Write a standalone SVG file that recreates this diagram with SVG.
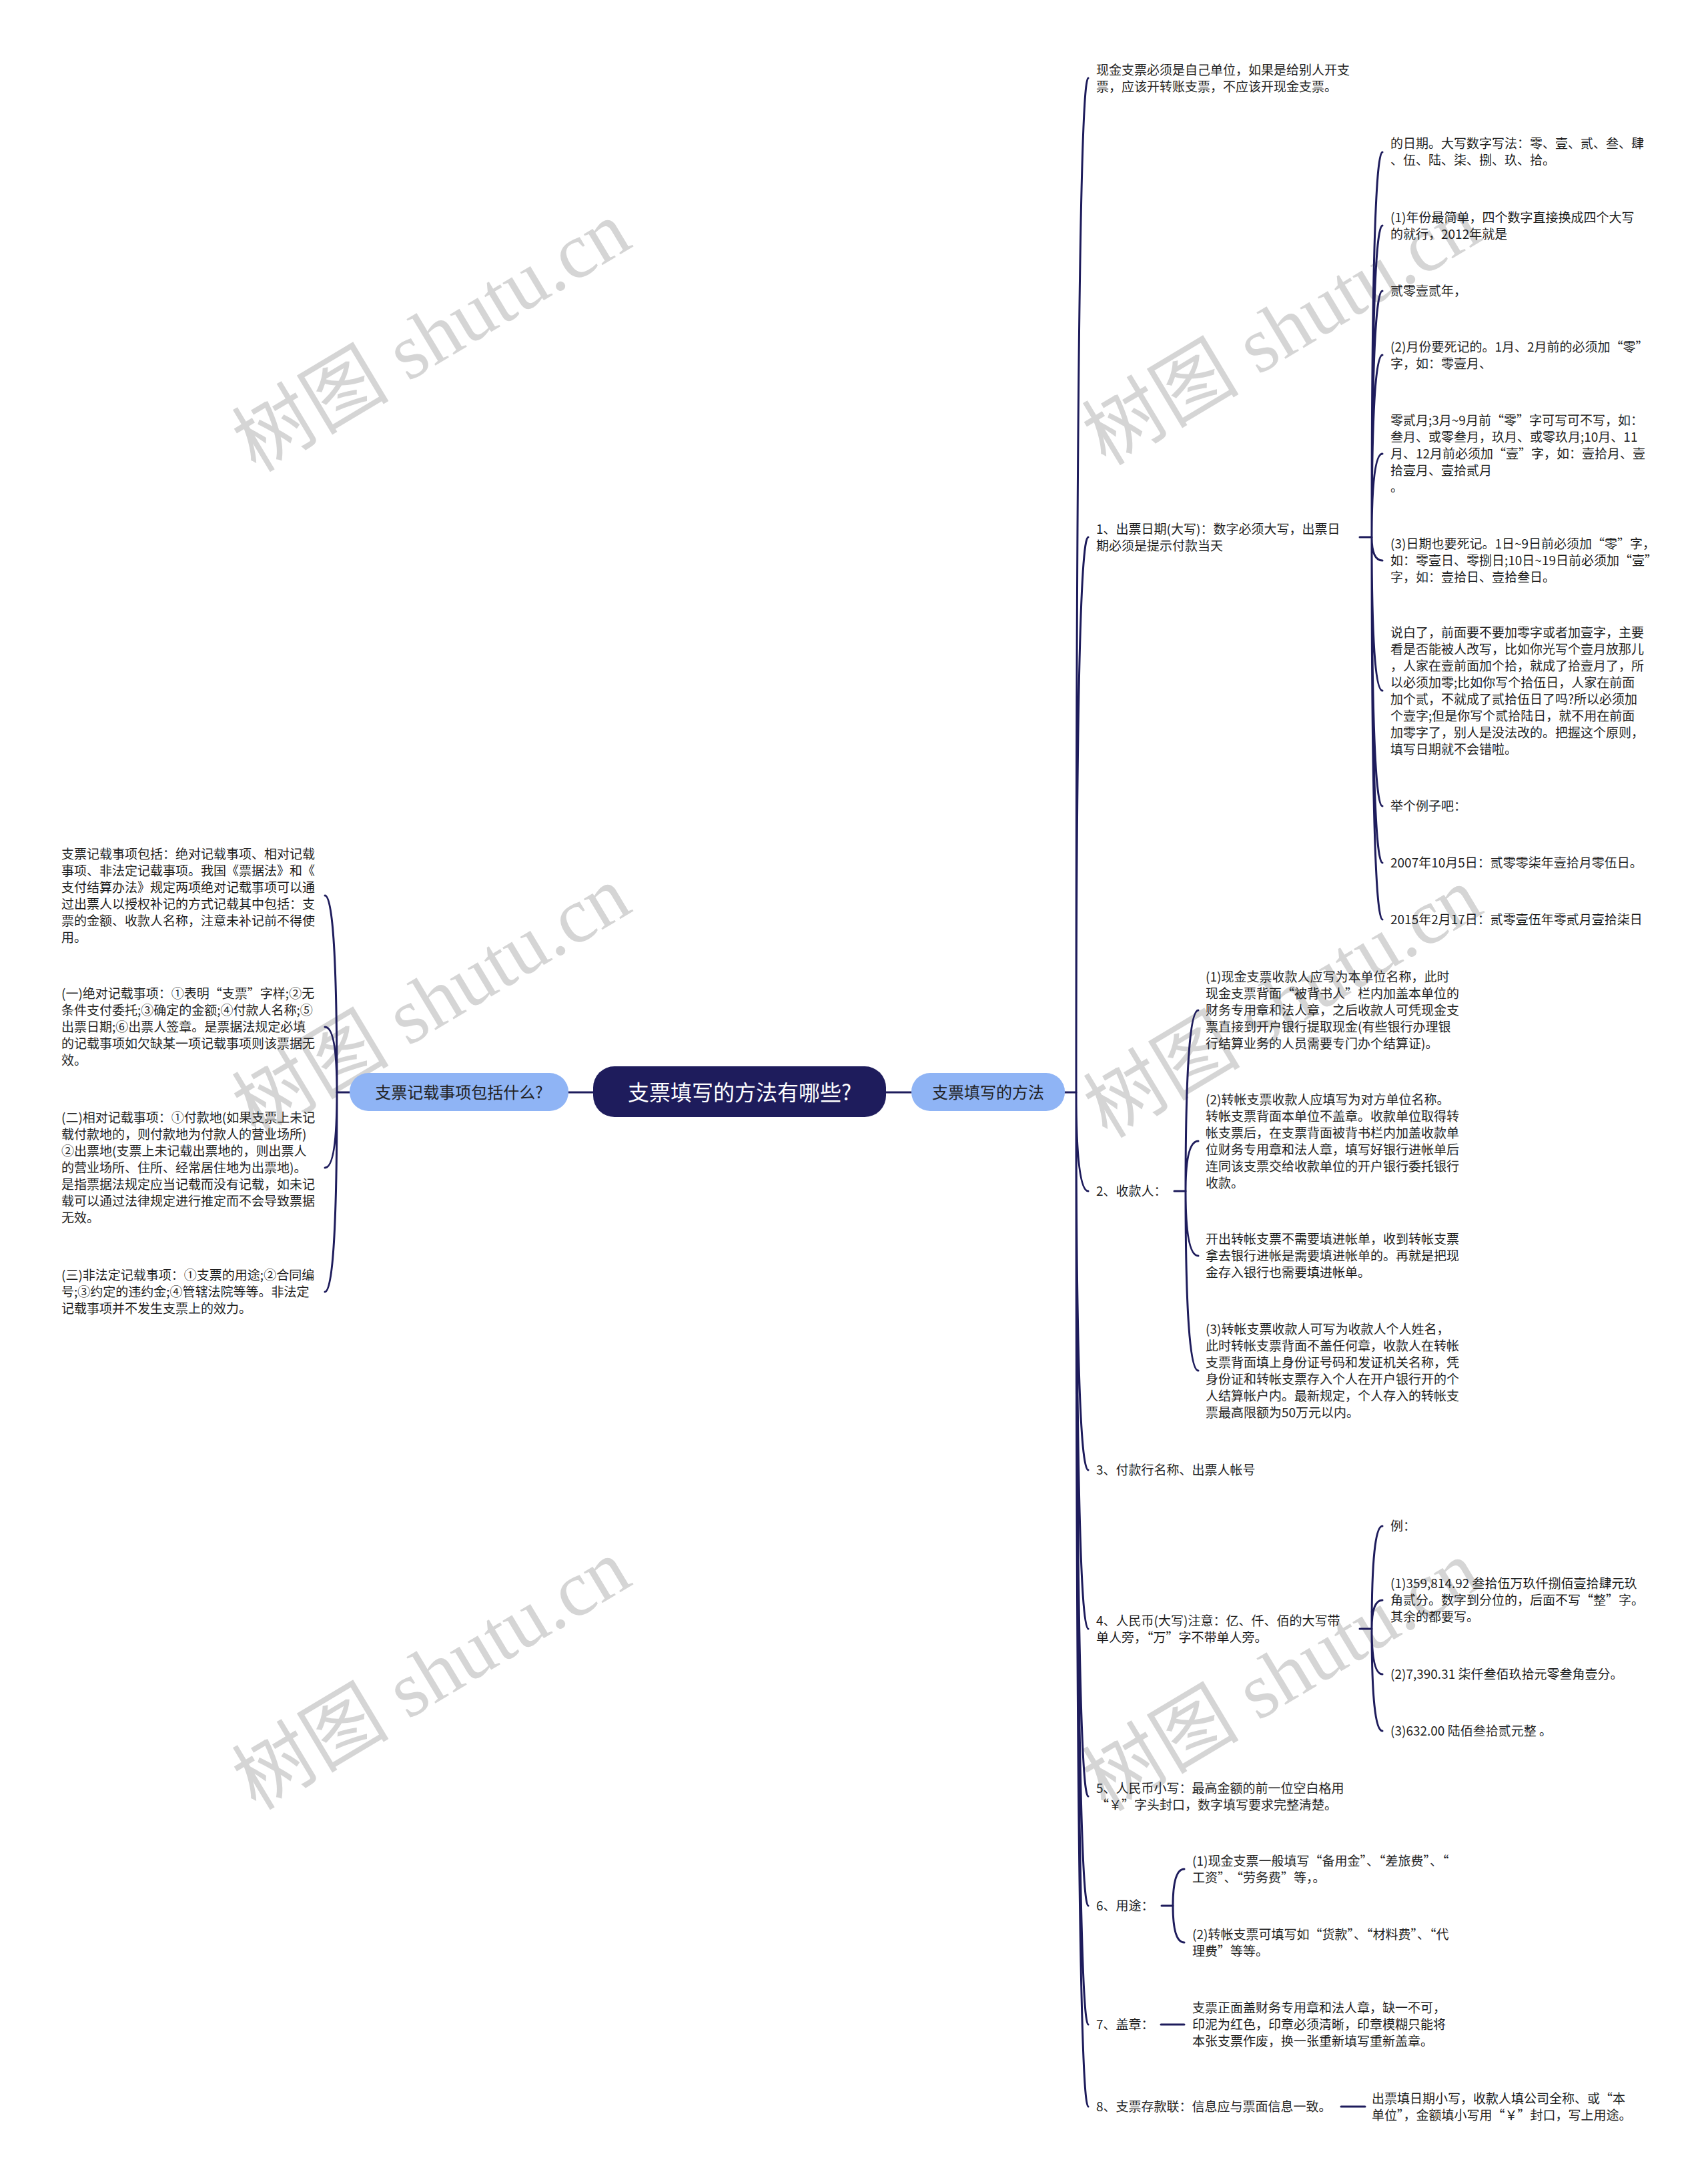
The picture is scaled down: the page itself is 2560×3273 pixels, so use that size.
<svg xmlns="http://www.w3.org/2000/svg" width="2560" height="3273" viewBox="0 0 2560 3273">
<style>
.bg{fill:#ffffff}
.wm{font-family:"Liberation Serif","Noto Sans CJK SC",serif;font-size:118px;fill:#d5d5d5}
.t{font-family:"Noto Sans CJK SC","Noto Sans",sans-serif;font-size:19px;fill:#1f1f1f}
.c{fill:none;stroke:#1e1c5c;stroke-width:3;stroke-linecap:round}
.root{fill:#1e1c5c}
.sub{fill:#8fb4f5}
.rt{font-family:"Noto Sans CJK SC","Noto Sans",sans-serif;font-size:32px;fill:#ffffff;text-anchor:middle}
.st{font-family:"Noto Sans CJK SC","Noto Sans",sans-serif;font-size:24px;fill:#222222;text-anchor:middle}
</style>
<rect class="bg" x="0" y="0" width="2560" height="3273"/>
<g id="watermarks">
<text class="wm" text-anchor="middle" dominant-baseline="central" transform="translate(647,505) rotate(-31)">树图 shutu.cn</text>
<text class="wm" text-anchor="middle" dominant-baseline="central" transform="translate(647,1501) rotate(-31)">树图 shutu.cn</text>
<text class="wm" text-anchor="middle" dominant-baseline="central" transform="translate(647,2510) rotate(-31)">树图 shutu.cn</text>
<text class="wm" text-anchor="middle" dominant-baseline="central" transform="translate(1921,495) rotate(-31)">树图 shutu.cn</text>
<text class="wm" text-anchor="middle" dominant-baseline="central" transform="translate(1923,1503) rotate(-31)">树图 shutu.cn</text>
<text class="wm" text-anchor="middle" dominant-baseline="central" transform="translate(1921,2512) rotate(-31)">树图 shutu.cn</text>
</g>
<g id="connectors">
<path class="c" d="M852 1637H889M1328 1637H1366"/>
<path class="c" d="M1596 1637H1613"/>
<path class="c" d="M1613 1637Q1613 117 1631 117M1613 1637Q1613 805 1631 805M1613 1637Q1613 1785 1631 1785M1613 1637Q1613 2203 1631 2203M1613 1637Q1613 2441 1631 2441M1613 1637Q1613 2692 1631 2692M1613 1637Q1613 2856 1631 2856M1613 1637Q1613 3034 1631 3034M1613 1637Q1613 3157 1631 3157"/>
<path class="c" d="M524 1637H505"/>
<path class="c" d="M505 1637Q505 1342 487 1342M505 1637Q505 1539 487 1539M505 1637Q505 1750 487 1750M505 1637Q505 1936 487 1936"/>
<path class="c" d="M2038 805H2056"/>
<path class="c" d="M2056 805Q2056 228 2072 228M2056 805Q2056 338 2072 338M2056 805Q2056 436 2072 436M2056 805Q2056 532 2072 532M2056 805Q2056 680 2072 680M2056 805Q2056 840 2072 840M2056 805Q2056 1035 2072 1035M2056 805Q2056 1208 2072 1208M2056 805Q2056 1293 2072 1293M2056 805Q2056 1378 2072 1378"/>
<path class="c" d="M1760 1785H1777"/>
<path class="c" d="M1777 1785Q1777 1514 1796 1514M1777 1785Q1777 1710 1796 1710M1777 1785Q1777 1882 1796 1882M1777 1785Q1777 2054 1796 2054"/>
<path class="c" d="M2038 2441H2056"/>
<path class="c" d="M2056 2441Q2056 2287 2072 2287M2056 2441Q2056 2398 2072 2398M2056 2441Q2056 2509 2072 2509M2056 2441Q2056 2594 2072 2594"/>
<path class="c" d="M1741 2856H1758"/>
<path class="c" d="M1758 2856Q1758 2801 1775 2801M1758 2856Q1758 2911 1775 2911"/>
<path class="c" d="M1740 3034H1775"/>
<path class="c" d="M2010 3157H2046"/>
</g>
<g id="root">
<rect class="root" x="889" y="1598" width="439" height="76" rx="32"/>
<text class="rt" x="1108.5" y="1649">支票填写的方法有哪些?</text>
</g>
<g id="branch-right">
<rect class="sub" x="1366" y="1608" width="230" height="57" rx="28"/>
<text class="st" x="1481" y="1646">支票填写的方法</text>
</g>
<g id="branch-left">
<rect class="sub" x="524" y="1608" width="328" height="57" rx="28"/>
<text class="st" x="688" y="1646">支票记载事项包括什么?</text>
</g>
<g id="r1"><text class="t"><tspan x="1643" y="112">现金支票必须是自己单位，如果是给别人开支</tspan><tspan x="1643" y="137">票，应该开转账支票，不应该开现金支票。</tspan></text></g>
<g id="r2"><text class="t"><tspan x="1643" y="800">1、出票日期(大写)：数字必须大写，出票日</tspan><tspan x="1643" y="825">期必须是提示付款当天</tspan></text></g>
<g id="r2a"><text class="t"><tspan x="2084" y="222">的日期。大写数字写法：零、壹、贰、叁、肆</tspan><tspan x="2084" y="247">、伍、陆、柒、捌、玖、拾。</tspan></text></g>
<g id="r2b"><text class="t"><tspan x="2084" y="333">(1)年份最简单，四个数字直接换成四个大写</tspan><tspan x="2084" y="358">的就行，2012年就是</tspan></text></g>
<g id="r2c"><text class="t"><tspan x="2084" y="443">贰零壹贰年，</tspan></text></g>
<g id="r2d"><text class="t"><tspan x="2084" y="527">(2)月份要死记的。1月、2月前的必须加“零”</tspan><tspan x="2084" y="552">字，如：零壹月、</tspan></text></g>
<g id="r2e"><text class="t"><tspan x="2084" y="637">零贰月;3月~9月前“零”字可写可不写，如：</tspan><tspan x="2084" y="662">叁月、或零叁月，玖月、或零玖月;10月、11</tspan><tspan x="2084" y="687">月、12月前必须加“壹”字，如：壹拾月、壹</tspan><tspan x="2084" y="712">拾壹月、壹拾贰月</tspan><tspan x="2084" y="737">。</tspan></text></g>
<g id="r2f"><text class="t"><tspan x="2084" y="822">(3)日期也要死记。1日~9日前必须加“零”字，</tspan><tspan x="2084" y="847">如：零壹日、零捌日;10日~19日前必须加“壹”</tspan><tspan x="2084" y="872">字，如：壹拾日、壹拾叁日。</tspan></text></g>
<g id="r2g"><text class="t"><tspan x="2084" y="955">说白了，前面要不要加零字或者加壹字，主要</tspan><tspan x="2084" y="980">看是否能被人改写，比如你光写个壹月放那儿</tspan><tspan x="2084" y="1005">，人家在壹前面加个拾，就成了拾壹月了，所</tspan><tspan x="2084" y="1030">以必须加零;比如你写个拾伍日，人家在前面</tspan><tspan x="2084" y="1055">加个贰，不就成了贰拾伍日了吗?所以必须加</tspan><tspan x="2084" y="1080">个壹字;但是你写个贰拾陆日，就不用在前面</tspan><tspan x="2084" y="1105">加零字了，别人是没法改的。把握这个原则，</tspan><tspan x="2084" y="1130">填写日期就不会错啦。</tspan></text></g>
<g id="r2h"><text class="t"><tspan x="2084" y="1215">举个例子吧：</tspan></text></g>
<g id="r2i"><text class="t"><tspan x="2084" y="1300">2007年10月5日：贰零零柒年壹拾月零伍日。</tspan></text></g>
<g id="r2j"><text class="t"><tspan x="2084" y="1385">2015年2月17日：贰零壹伍年零贰月壹拾柒日</tspan></text></g>
<g id="r3"><text class="t"><tspan x="1643" y="1792">2、收款人：</tspan></text></g>
<g id="r3a"><text class="t"><tspan x="1807" y="1471">(1)现金支票收款人应写为本单位名称，此时</tspan><tspan x="1807" y="1496">现金支票背面“被背书人”栏内加盖本单位的</tspan><tspan x="1807" y="1521">财务专用章和法人章，之后收款人可凭现金支</tspan><tspan x="1807" y="1546">票直接到开户银行提取现金(有些银行办理银</tspan><tspan x="1807" y="1571">行结算业务的人员需要专门办个结算证)。</tspan></text></g>
<g id="r3b"><text class="t"><tspan x="1807" y="1655">(2)转帐支票收款人应填写为对方单位名称。</tspan><tspan x="1807" y="1680">转帐支票背面本单位不盖章。收款单位取得转</tspan><tspan x="1807" y="1705">帐支票后，在支票背面被背书栏内加盖收款单</tspan><tspan x="1807" y="1730">位财务专用章和法人章，填写好银行进帐单后</tspan><tspan x="1807" y="1755">连同该支票交给收款单位的开户银行委托银行</tspan><tspan x="1807" y="1780">收款。</tspan></text></g>
<g id="r3c"><text class="t"><tspan x="1807" y="1864">开出转帐支票不需要填进帐单，收到转帐支票</tspan><tspan x="1807" y="1889">拿去银行进帐是需要填进帐单的。再就是把现</tspan><tspan x="1807" y="1914">金存入银行也需要填进帐单。</tspan></text></g>
<g id="r3d"><text class="t"><tspan x="1807" y="1999">(3)转帐支票收款人可写为收款人个人姓名，</tspan><tspan x="1807" y="2024">此时转帐支票背面不盖任何章，收款人在转帐</tspan><tspan x="1807" y="2049">支票背面填上身份证号码和发证机关名称，凭</tspan><tspan x="1807" y="2074">身份证和转帐支票存入个人在开户银行开的个</tspan><tspan x="1807" y="2099">人结算帐户内。最新规定，个人存入的转帐支</tspan><tspan x="1807" y="2124">票最高限额为50万元以内。</tspan></text></g>
<g id="r4"><text class="t"><tspan x="1643" y="2210">3、付款行名称、出票人帐号</tspan></text></g>
<g id="r5"><text class="t"><tspan x="1643" y="2436">4、人民币(大写)注意：亿、仟、佰的大写带</tspan><tspan x="1643" y="2461">单人旁，“万”字不带单人旁。</tspan></text></g>
<g id="r5a"><text class="t"><tspan x="2084" y="2294">例：</tspan></text></g>
<g id="r5b"><text class="t"><tspan x="2084" y="2380">(1)359,814.92 叁拾伍万玖仟捌佰壹拾肆元玖</tspan><tspan x="2084" y="2405">角贰分。数字到分位的，后面不写“整”字。</tspan><tspan x="2084" y="2430">其余的都要写。</tspan></text></g>
<g id="r5c"><text class="t"><tspan x="2084" y="2516">(2)7,390.31 柒仟叁佰玖拾元零叁角壹分。</tspan></text></g>
<g id="r5d"><text class="t"><tspan x="2084" y="2601">(3)632.00 陆佰叁拾贰元整 。</tspan></text></g>
<g id="r6"><text class="t"><tspan x="1643" y="2687">5、人民币小写：最高金额的前一位空白格用</tspan><tspan x="1643" y="2712">“￥”字头封口，数字填写要求完整清楚。</tspan></text></g>
<g id="r7"><text class="t"><tspan x="1643" y="2863">6、用途：</tspan></text></g>
<g id="r7a"><text class="t"><tspan x="1787" y="2796">(1)现金支票一般填写“备用金”、“差旅费”、“</tspan><tspan x="1787" y="2821">工资”、“劳务费”等，。</tspan></text></g>
<g id="r7b"><text class="t"><tspan x="1787" y="2906">(2)转帐支票可填写如“货款”、“材料费”、“代</tspan><tspan x="1787" y="2931">理费”等等。</tspan></text></g>
<g id="r8"><text class="t"><tspan x="1643" y="3041">7、盖章：</tspan></text></g>
<g id="r8a"><text class="t"><tspan x="1787" y="3016">支票正面盖财务专用章和法人章，缺一不可，</tspan><tspan x="1787" y="3041">印泥为红色，印章必须清晰，印章模糊只能将</tspan><tspan x="1787" y="3066">本张支票作废，换一张重新填写重新盖章。</tspan></text></g>
<g id="r9"><text class="t"><tspan x="1643" y="3164">8、支票存款联：信息应与票面信息一致。</tspan></text></g>
<g id="r9a"><text class="t"><tspan x="2056" y="3152">出票填日期小写，收款人填公司全称、或“本</tspan><tspan x="2056" y="3177">单位”，金额填小写用“￥”封口，写上用途。</tspan></text></g>
<g id="l1"><text class="t"><tspan x="92" y="1287">支票记载事项包括：绝对记载事项、相对记载</tspan><tspan x="92" y="1312">事项、非法定记载事项。我国《票据法》和《</tspan><tspan x="92" y="1337">支付结算办法》规定两项绝对记载事项可以通</tspan><tspan x="92" y="1362">过出票人以授权补记的方式记载其中包括：支</tspan><tspan x="92" y="1387">票的金额、收款人名称，注意未补记前不得使</tspan><tspan x="92" y="1412">用。</tspan></text></g>
<g id="l2"><text class="t"><tspan x="92" y="1496">(一)绝对记载事项：①表明“支票”字样;②无</tspan><tspan x="92" y="1521">条件支付委托;③确定的金额;④付款人名称;⑤</tspan><tspan x="92" y="1546">出票日期;⑥出票人签章。是票据法规定必填</tspan><tspan x="92" y="1571">的记载事项如欠缺某一项记载事项则该票据无</tspan><tspan x="92" y="1596">效。</tspan></text></g>
<g id="l3"><text class="t"><tspan x="92" y="1682">(二)相对记载事项：①付款地(如果支票上未记</tspan><tspan x="92" y="1707">载付款地的，则付款地为付款人的营业场所)</tspan><tspan x="92" y="1732">②出票地(支票上未记载出票地的，则出票人</tspan><tspan x="92" y="1757">的营业场所、住所、经常居住地为出票地)。</tspan><tspan x="92" y="1782">是指票据法规定应当记载而没有记载，如未记</tspan><tspan x="92" y="1807">载可以通过法律规定进行推定而不会导致票据</tspan><tspan x="92" y="1832">无效。</tspan></text></g>
<g id="l4"><text class="t"><tspan x="92" y="1918">(三)非法定记载事项：①支票的用途;②合同编</tspan><tspan x="92" y="1943">号;③约定的违约金;④管辖法院等等。非法定</tspan><tspan x="92" y="1968">记载事项并不发生支票上的效力。</tspan></text></g>
</svg>
